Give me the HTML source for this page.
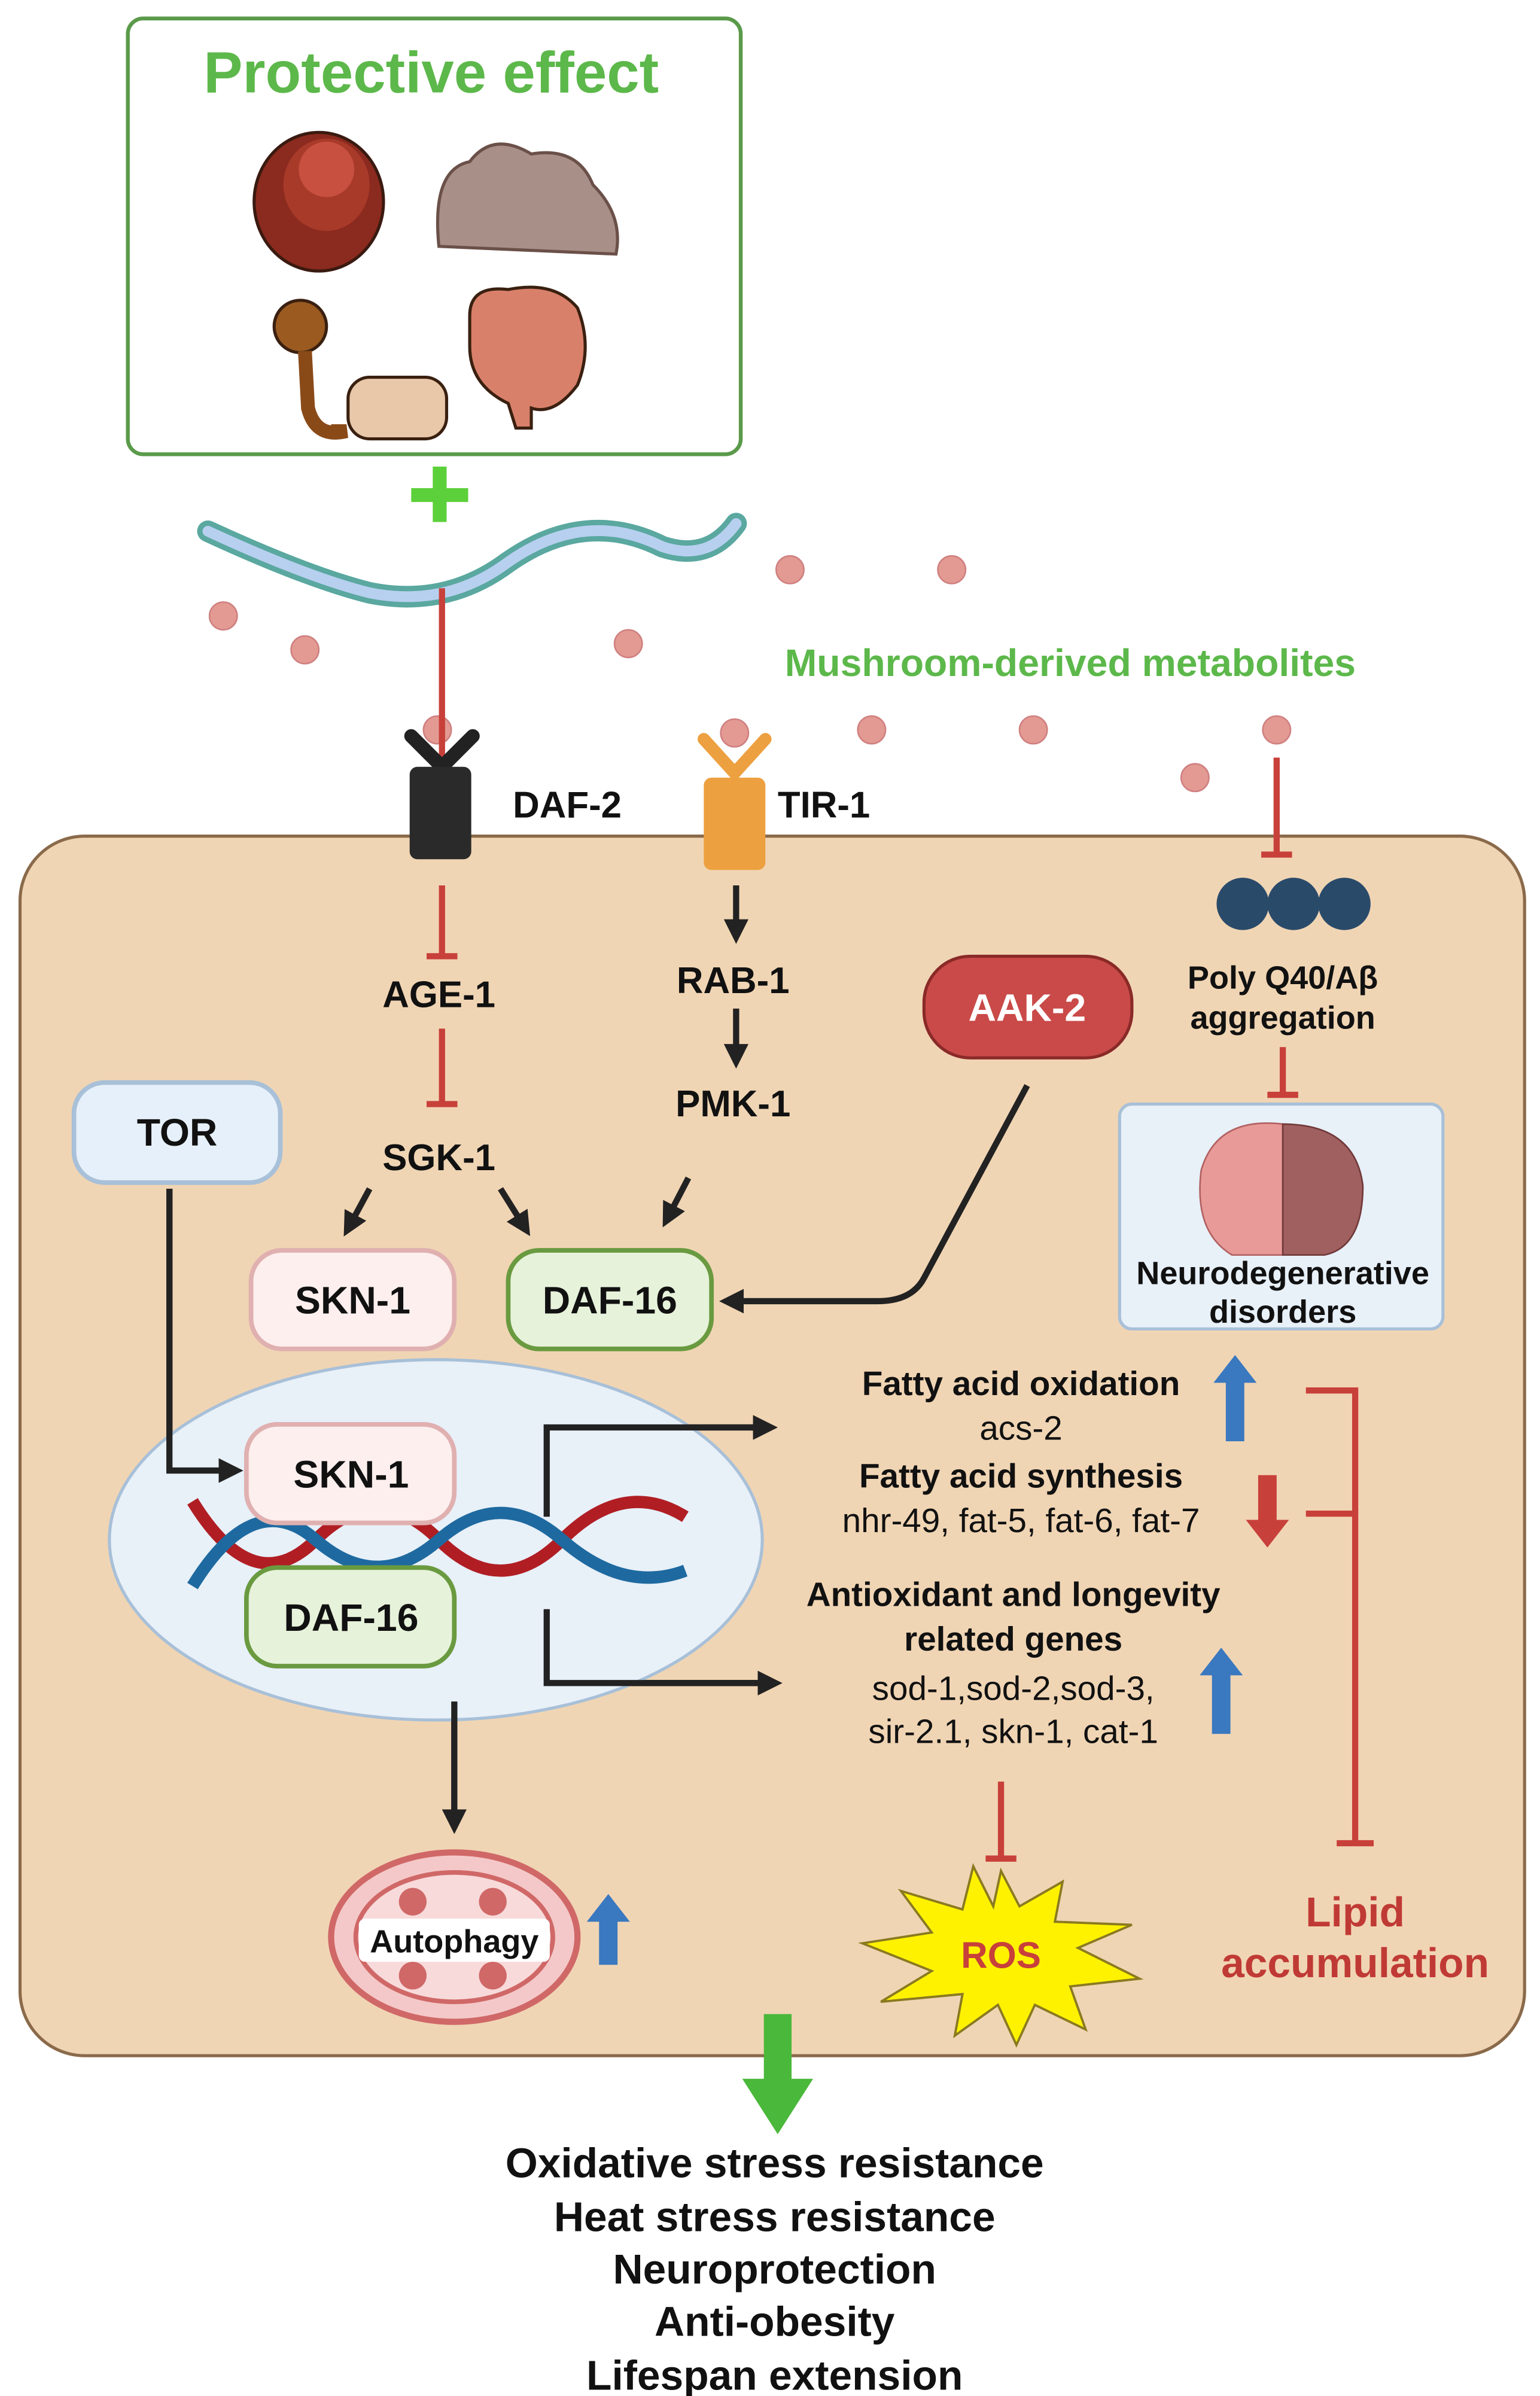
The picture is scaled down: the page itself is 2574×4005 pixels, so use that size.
<!DOCTYPE html>
<html><head><meta charset="utf-8"><style>
html,body{margin:0;padding:0;background:#fff}
svg{display:block}
text{font-family:"Liberation Sans",Arial,sans-serif}
.b{font-weight:bold}
</style></head><body>
<svg width="2574" height="4005" viewBox="0 0 1000 1556" xmlns="http://www.w3.org/2000/svg">
<defs>
<marker id="ah" markerWidth="4" markerHeight="4" refX="2" refY="2" orient="auto" markerUnits="strokeWidth"><path d="M0,0 L4,2 L0,4 z" fill="#222"/></marker>
</defs>
<!-- protective box -->
<rect x="83" y="12" width="398" height="283" rx="10" fill="#fff" stroke="#5a9a4a" stroke-width="2.5"/>
<text x="280" y="60" text-anchor="middle" class="b" font-size="38" fill="#5cb84a">Protective effect</text>
<!-- mushrooms -->
<ellipse cx="207" cy="131" rx="42" ry="45" fill="#8b2a1e" stroke="#3a1a10" stroke-width="2"/>
<ellipse cx="212" cy="120" rx="28" ry="30" fill="#a83a2a"/>
<ellipse cx="212" cy="110" rx="18" ry="18" fill="#c85040"/>
<path d="M285,160 Q280,110 305,105 Q320,85 345,100 Q375,95 385,120 Q405,140 400,165 Z" fill="#a89088" stroke="#6a5048" stroke-width="2"/>
<circle cx="195" cy="212" r="17" fill="#9a5a20" stroke="#3a2010" stroke-width="2"/>
<path d="M198,228 L200,265 Q205,285 225,280 L215,280" stroke="#8a4a18" stroke-width="9" fill="none"/>
<rect x="226" y="245" width="64" height="40" rx="14" fill="#e8c8a8" stroke="#3a2010" stroke-width="2"/>
<path d="M305,205 Q305,185 330,188 Q360,182 375,200 Q385,225 375,250 Q360,270 345,265 L345,278 L335,278 L330,262 Q305,250 305,225 Z" fill="#d9806a" stroke="#3a2010" stroke-width="2"/>
<!-- plus -->
<rect x="281" y="303" width="9" height="36" fill="#5cd03a"/><rect x="267" y="317" width="37" height="9" fill="#5cd03a"/>
<!-- worm -->
<path d="M135,345 Q200,375 240,385 Q290,395 330,365 Q380,330 430,355 Q460,365 478,340" stroke="#5aa8a0" stroke-width="14" fill="none" stroke-linecap="round"/>
<path d="M135,345 Q200,375 240,385 Q290,395 330,365 Q380,330 430,355 Q460,365 478,340" stroke="#b8d0f0" stroke-width="7" fill="none" stroke-linecap="round"/>
<!-- dots -->
<g fill="#e39a93" stroke="#d08080" stroke-width="1">
<circle cx="513" cy="370" r="9"/><circle cx="618" cy="370" r="9"/><circle cx="145" cy="400" r="9"/><circle cx="198" cy="422" r="9"/><circle cx="408" cy="418" r="9"/><circle cx="284" cy="474" r="9"/><circle cx="477" cy="476" r="9"/><circle cx="566" cy="474" r="9"/><circle cx="671" cy="474" r="9"/><circle cx="829" cy="474" r="9"/><circle cx="776" cy="505" r="9"/>
</g>
<text x="695" y="439" text-anchor="middle" class="b" font-size="25" fill="#5cb84a">Mushroom-derived metabolites</text>
<!-- cell -->
<rect x="13" y="543" width="977" height="792" rx="42" fill="#f0d5b4" stroke="#8a6a4a" stroke-width="2"/>
<!-- red inhibitors -->
<g stroke="#c8403a" stroke-width="4" fill="none">
<path d="M287,382 V508 M277,510 H297"/>
<path d="M829,492 V553 M819,555 H839"/>
<path d="M287,575 V620 M277,621 H297"/>
<path d="M287,668 V716 M277,717 H297"/>
<path d="M833,680 V710 M823,711 H843"/>
<path d="M650,1157 V1205 M640,1207 H660"/>
<path d="M848,903 H880 V1195 M868,1197 H892 M848,983 H880"/>
</g>
<!-- receptors -->
<path d="M267,478 L287,498 L307,478" stroke="#222" stroke-width="9" fill="none" stroke-linecap="round"/>
<rect x="266" y="498" width="40" height="60" rx="5" fill="#2a2a2a"/>
<text x="333" y="531" class="b" font-size="24" fill="#111">DAF-2</text>
<path d="M457,480 L477,502 L497,480" stroke="#eda040" stroke-width="8" fill="none" stroke-linecap="round"/>
<rect x="457" y="505" width="40" height="60" rx="5" fill="#eda040"/>
<text x="505" y="531" class="b" font-size="24" fill="#111">TIR-1</text>
<g class="b" font-size="24" fill="#111" text-anchor="middle">
<text x="285" y="654">AGE-1</text><text x="285" y="760">SGK-1</text>
<text x="476" y="645">RAB-1</text><text x="476" y="725">PMK-1</text>
</g>
<g stroke="#222" stroke-width="4" fill="none" marker-end="url(#ah)">
<path d="M478,575 V605"/><path d="M478,655 V686"/>
<path d="M240,772 L227,796"/><path d="M325,772 L340,796"/><path d="M447,765 L434,790"/>
<path d="M667,705 L600,830 Q592,845 570,845 L475,845"/>
<path d="M110,772 V955 H150"/>
<path d="M355,985 V927 H497"/><path d="M355,1045 V1093 H500"/>
<path d="M295,1105 V1183"/>
</g>
<!-- AAK-2 -->
<rect x="600" y="621" width="135" height="66" rx="30" fill="#c94a48" stroke="#8a2a28" stroke-width="2"/>
<text x="667" y="663" text-anchor="middle" class="b" font-size="25" fill="#fff">AAK-2</text>
<!-- aggregates -->
<g fill="#2a4a6a"><circle cx="807" cy="587" r="17"/><circle cx="840" cy="587" r="17"/><circle cx="873" cy="587" r="17"/></g>
<text x="833" y="642" text-anchor="middle" class="b" font-size="21" fill="#111">Poly Q40/Aβ</text>
<text x="833" y="668" text-anchor="middle" class="b" font-size="21" fill="#111">aggregation</text>
<rect x="727" y="717" width="210" height="146" rx="8" fill="#e8f0f8" stroke="#a8c0d8" stroke-width="2"/>
<path d="M833,730 Q790,725 780,760 Q775,800 800,815 L833,815 Z" fill="#e89a98" stroke="#b06060"/>
<path d="M833,730 Q880,730 885,770 Q885,810 860,815 L833,815 Z" fill="#a06060" stroke="#703838"/>
<text x="833" y="834" text-anchor="middle" class="b" font-size="21" fill="#111">Neurodegenerative</text>
<text x="833" y="859" text-anchor="middle" class="b" font-size="21" fill="#111">disorders</text>
<!-- TOR -->
<rect x="48" y="703" width="134" height="65" rx="20" fill="#e6f0fa" stroke="#a8c0d8" stroke-width="3"/>
<text x="115" y="744" text-anchor="middle" class="b" font-size="25" fill="#111">TOR</text>
<!-- SKN-1 DAF-16 -->
<rect x="163" y="812" width="132" height="64" rx="20" fill="#fcefee" stroke="#e0b0b0" stroke-width="3"/>
<text x="229" y="853" text-anchor="middle" class="b" font-size="25" fill="#111">SKN-1</text>
<rect x="330" y="812" width="132" height="64" rx="20" fill="#e6f2da" stroke="#6a9a40" stroke-width="3"/>
<text x="396" y="853" text-anchor="middle" class="b" font-size="25" fill="#111">DAF-16</text>
<!-- nucleus -->
<ellipse cx="283" cy="1000" rx="212" ry="117" fill="#e8f0f8" stroke="#a8c0d8" stroke-width="2"/>
<path d="M125,975 Q165,1040 205,1000 T285,1000 T365,1000 T445,985" stroke="#b01e24" stroke-width="8" fill="none"/>
<path d="M125,1030 Q165,965 205,1000 T285,1000 T365,1000 T445,1020" stroke="#1e6aa0" stroke-width="8" fill="none"/>
<g stroke="#222" stroke-width="4" fill="none" marker-end="url(#ah)"><path d="M355,985 V927 H497"/><path d="M355,1045 V1093 H500"/><path d="M110,772 V955 H150"/></g>
<rect x="160" y="925" width="135" height="64" rx="20" fill="#fcefee" stroke="#e0b0b0" stroke-width="3"/>
<text x="228" y="966" text-anchor="middle" class="b" font-size="25" fill="#111">SKN-1</text>
<rect x="160" y="1018" width="135" height="64" rx="20" fill="#e6f2da" stroke="#6a9a40" stroke-width="3"/>
<text x="228" y="1059" text-anchor="middle" class="b" font-size="25" fill="#111">DAF-16</text>
<!-- gene text -->
<g text-anchor="middle" font-size="22" fill="#111">
<text x="663" y="906" class="b">Fatty acid oxidation</text>
<text x="663" y="935">acs-2</text>
<text x="663" y="966" class="b">Fatty acid synthesis</text>
<text x="663" y="995">nhr-49, fat-5, fat-6, fat-7</text>
<text x="658" y="1043" class="b">Antioxidant and longevity</text>
<text x="658" y="1072" class="b">related genes</text>
<text x="658" y="1104">sod-1,sod-2,sod-3,</text>
<text x="658" y="1132">sir-2.1, skn-1, cat-1</text>
</g>
<!-- up/down arrows -->
<path d="M802,880 L816,898 L808,898 L808,936 L796,936 L796,898 L788,898 Z" fill="#3a78c0"/>
<path d="M823,1005 L809,987 L817,987 L817,958 L829,958 L829,987 L837,987 Z" fill="#c8403a"/>
<path d="M793,1070 L807,1088 L799,1088 L799,1126 L787,1126 L787,1088 L779,1088 Z" fill="#3a78c0"/>
<path d="M395,1230 L409,1248 L401,1248 L401,1276 L389,1276 L389,1248 L381,1248 Z" fill="#3a78c0"/>
<text x="880" y="1251" text-anchor="middle" class="b" font-size="27" fill="#c03a35">Lipid</text>
<text x="880" y="1284" text-anchor="middle" class="b" font-size="27" fill="#c03a35">accumulation</text>
<!-- ROS -->
<path d="M650,1215 L662,1238 L690,1222 L685,1248 L735,1250 L700,1265 L740,1285 L695,1290 L705,1318 L672,1302 L660,1328 L648,1302 L620,1322 L625,1295 L572,1300 L605,1280 L560,1262 L605,1255 L585,1228 L625,1240 L632,1212 L645,1238 Z" fill="#fff200" stroke="#8a7a20" stroke-width="1.5"/>
<text x="650" y="1278" text-anchor="middle" class="b" font-size="24" fill="#c8403a">ROS</text>
<!-- autophagy -->
<g stroke="#222" stroke-width="4" fill="none" marker-end="url(#ah)"><path d="M295,1105 V1183"/></g>
<ellipse cx="295" cy="1258" rx="80" ry="55" fill="#f4c8c8" stroke="#d06868" stroke-width="4"/>
<ellipse cx="295" cy="1258" rx="64" ry="42" fill="#f8dada" stroke="#d06868" stroke-width="3"/>
<circle cx="268" cy="1235" r="9" fill="#d06868"/><circle cx="320" cy="1235" r="9" fill="#d06868"/><circle cx="268" cy="1283" r="9" fill="#d06868"/><circle cx="320" cy="1283" r="9" fill="#d06868"/>
<rect x="233" y="1246" width="124" height="28" rx="4" fill="#fff"/>
<text x="295" y="1268" text-anchor="middle" class="b" font-size="21" fill="#111">Autophagy</text>
<!-- green arrow -->
<path d="M496,1308 H514 V1350 H528 L505,1386 L482,1350 H496 Z" fill="#4ab83a"/>
<g text-anchor="middle" class="b" font-size="27" fill="#111">
<text x="503" y="1414">Oxidative stress resistance</text>
<text x="503" y="1449">Heat stress resistance</text>
<text x="503" y="1483">Neuroprotection</text>
<text x="503" y="1517">Anti-obesity</text>
<text x="503" y="1552">Lifespan extension</text>
</g>
</svg>
</body></html>
